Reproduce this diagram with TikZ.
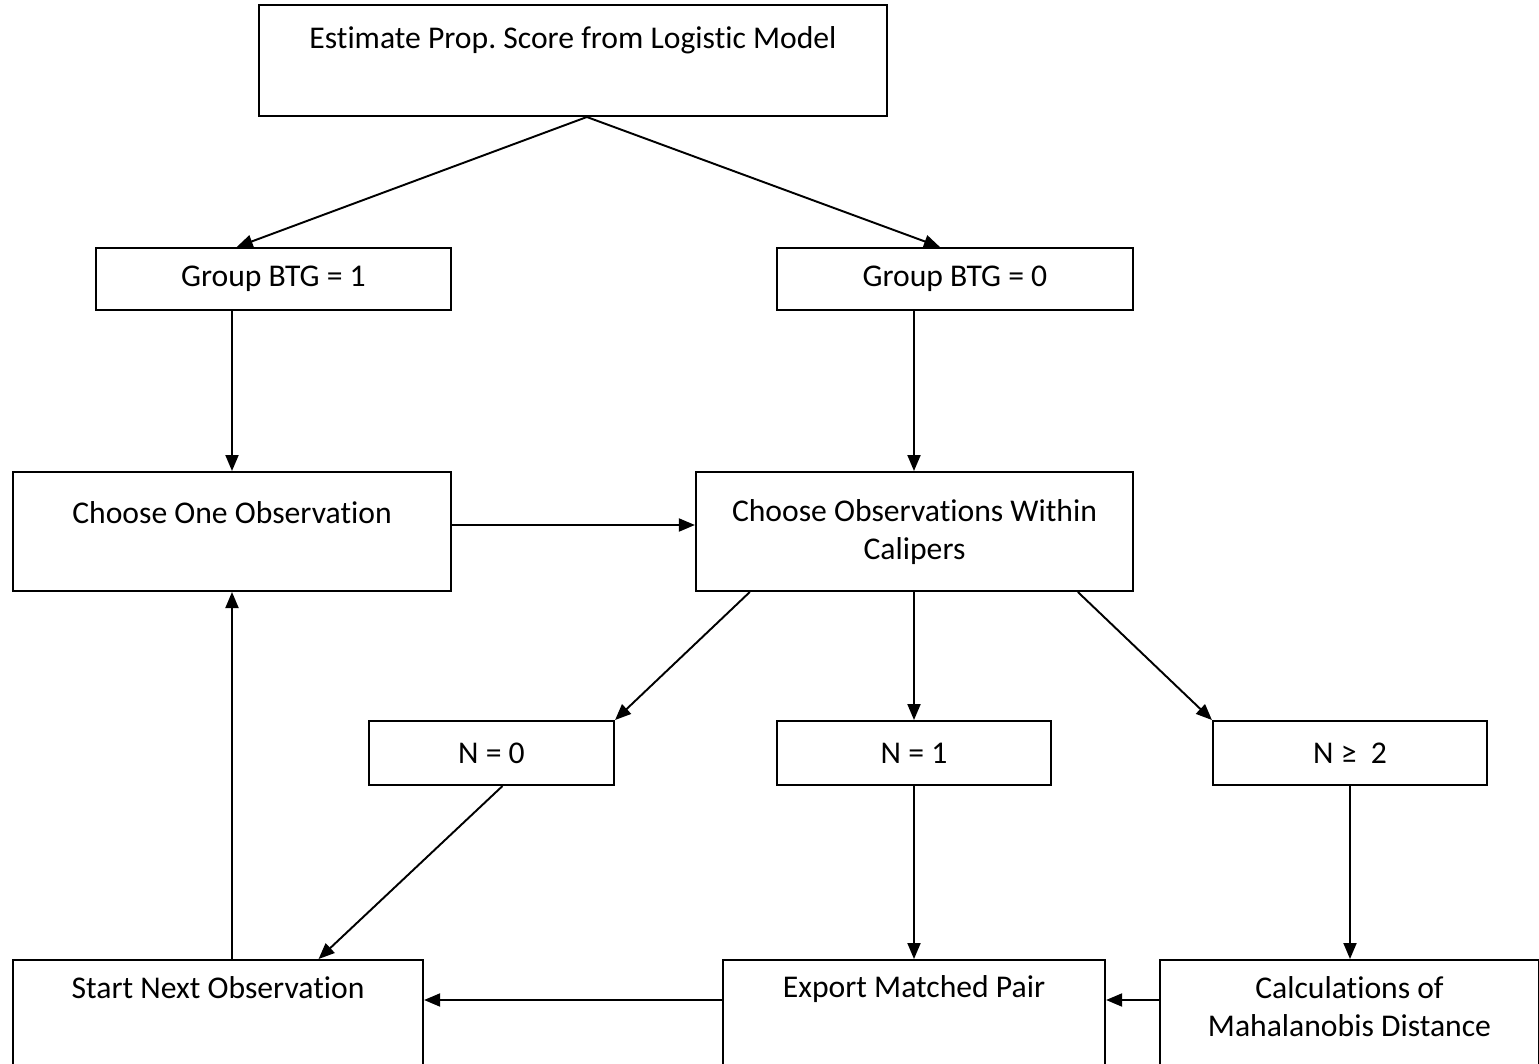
\documentclass[tikz,border=0pt]{standalone}
\usepackage{fontspec}
\setmainfont{Carlito}[Ligatures=NoCommon]
\frenchspacing
\usetikzlibrary{calc, arrows.meta}

\begin{document}
\begin{tikzpicture}[x=0.01cm, y=-0.01cm, line width=0.55pt,
  box/.style={draw, rectangle, inner sep=0pt},
  smallbox/.style={box, minimum height=0.64cm,
    font=\fontsize{9}{10.8}\selectfont},
  txt/.style={inner sep=0pt, align=center, font=\fontsize{9}{10.8}\selectfont},
  arr/.style={-{Triangle[length=0.16cm, width=0.13cm]}},
]
  \useasboundingbox (0,0) rectangle (1539,1063);
  % Kaesten (Mittelpunkt in px, y nach unten)
  \node[box, minimum width=6.28cm, minimum height=1.11cm] (top) at (573,60.5) {};
  \node[smallbox, minimum width=3.55cm, minimum height=0.62cm] (g1) at (273.5,279) {Group BTG = 1};
  \node[smallbox, minimum width=3.56cm, minimum height=0.62cm] (g0) at (955,279) {Group BTG = 0};
  \node[box, minimum width=4.38cm, minimum height=1.19cm] (c1) at (232,531.5) {};
  \node[box, minimum width=4.37cm, minimum height=1.19cm] (c0) at (914.5,531.5) {};
  \node[smallbox, minimum width=2.45cm] (n0) at (491.5,753) {N = 0};
  \node[smallbox, minimum width=2.74cm] (n1) at (914,753) {N = 1};
  \node[smallbox, minimum width=2.74cm] (n2) at (1350,753) {N ≥\ \ 2};
  \node[box, minimum width=4.10cm, minimum height=1.19cm] (s) at (218,1019.5) {};
  \node[box, minimum width=3.82cm, minimum height=1.19cm] (e) at (914,1019.5) {};
  \node[box, minimum width=3.79cm, minimum height=1.19cm] (m) at (1349.5,1019.5) {};
  % Texte oben in den grossen Kaesten
  \node[txt] (toptext) at (573,40) {Estimate Prop. Score from Logistic Model};
  \node[txt] (c1text) at (232,513) {Choose One Observation};
  \node[txt] (c0text) at (914.5,532) {Choose Observations Within\\Calipers};
  \node[txt] (stext) at (218,988) {Start Next Observation};
  \node[txt] (etext) at (914,989) {Export Matched Pair};
  \node[txt] (mtext) at (1349.5,1007) {Calculations of\\Mahalanobis Distance};
  % Verzweigung oben
  \coordinate (fork) at ($(top.south west)!0.522!(top.south east)$);
  \draw[arr] (fork) -- ($(g1.north west)!0.397!(g1.north east)$);
  \draw[arr] (fork) -- ($(g0.north west)!0.458!(g0.north east)$);
  \draw[arr] (g1.south -| c1) -- (c1.north);
  \draw[arr] (g0.south -| n1) -- (c0.north -| n1);
  \draw[arr] ([yshift=0.065cm]c1.east) -- ([yshift=0.065cm]c0.west);
  % Anzahl N
  \draw[arr] ($(c0.south west)!0.125!(c0.south east)$) -- (n0.north east);
  \draw[arr] (c0.south -| n1) -- (n1.north);
  \draw[arr] ($(c0.south west)!0.872!(c0.south east)$) -- (n2.north west);
  \draw[arr] ($(n0.south)+(11,0)$) -- ($(s.north west)!0.744!(s.north east)$);
  \draw[arr] (n1.south) -- (n1.south |- e.north);
  \draw[arr] (n2.south) -- (n2.south |- m.north);
  % Rueckweg
  \draw[arr] ([yshift=0.195cm]m.west) -- ([yshift=0.195cm]e.east);
  \draw[arr] ([yshift=0.195cm]e.west) -- ([yshift=0.195cm]s.east);
  \draw[arr] (s.north -| c1) -- (c1.south);
\end{tikzpicture}
\end{document}
